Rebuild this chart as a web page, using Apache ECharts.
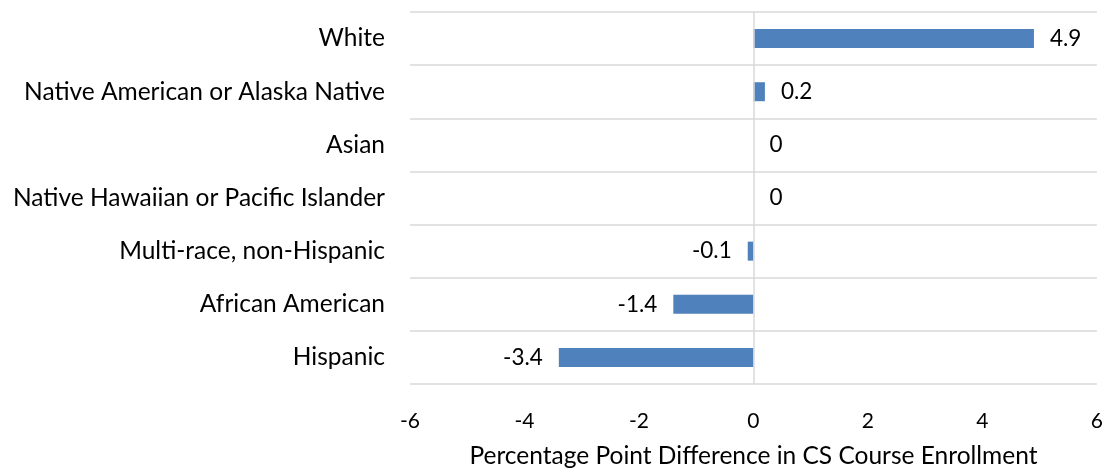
<!DOCTYPE html>
<html>
<head>
<meta charset="utf-8">
<script src="https://cdn.jsdelivr.net/npm/echarts@6/dist/echarts.min.js"></script>
<style>
  html, body { margin: 0; padding: 0; background: #fff; }
  #chart { width: 1106px; height: 475px; }
</style>
</head>
<body>
<div id="chart"></div>
<script>
// Groups listed bottom to top, as a horizontal bar chart stacks them
const groups = [
  'Hispanic',
  'African American',
  'Multi-race, non-Hispanic',
  'Native Hawaiian or Pacific Islander',
  'Asian',
  'Native American or Alaska Native',
  'White'
];
// Percentage point difference in CS course enrollment
const differences = [-3.4, -1.4, -0.1, 0, 0, 0.2, 4.9];
const xTicks = { min: -6, max: 6, step: 2 };
const axisTitle = 'Percentage Point Difference in CS Course Enrollment';

const FONT = 'Lato';
const chart = echarts.init(document.getElementById('chart'), null, { renderer: 'canvas' });

chart.setOption({
  animation: false,
  grid: { left: 410, right: 9, top: 12, bottom: 91 },
  xAxis: {
    type: 'value',
    min: xTicks.min,
    max: xTicks.max,
    interval: xTicks.step,
    axisLine: { show: false },
    axisTick: { show: false },
    splitLine: { show: false },
    axisLabel: { color: '#000', fontFamily: FONT, fontSize: 21, margin: 27 },
    name: axisTitle,
    nameLocation: 'middle',
    nameGap: 60,
    nameTextStyle: { color: '#000', fontFamily: FONT, fontSize: 24.5 }
  },
  yAxis: {
    type: 'category',
    data: groups,
    axisLine: { show: false },
    axisTick: { show: false },
    splitLine: { show: true, lineStyle: { color: '#d9d9d9', width: 1.5 } },
    axisLabel: { color: '#000', fontFamily: FONT, fontSize: 24.5, margin: 25 }
  },
  series: [{
    type: 'bar',
    // negative bars carry their value on the left side
    data: differences.map(v => v < 0
      ? { value: v, label: { position: 'left' } }
      : v),
    barWidth: 19,
    itemStyle: { color: '#4f81bd' },
    label: {
      show: true,
      position: 'right',
      distance: 16,
      color: '#000',
      fontFamily: FONT,
      fontSize: 22.5,
      formatter: p => String(p.value)
    },
    markLine: {
      silent: true,
      symbol: 'none',
      label: { show: false },
      lineStyle: { color: '#d9d9d9', width: 1.5, type: 'solid' },
      data: [{ xAxis: 0 }]
    }
  }]
});
</script>
</body>
</html>
